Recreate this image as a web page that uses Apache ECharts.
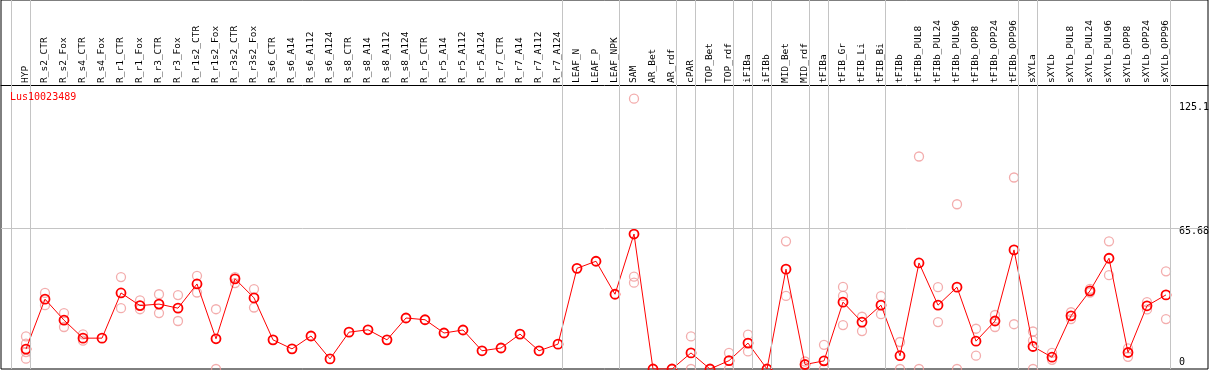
<!DOCTYPE html>
<html>
<head>
<meta charset="utf-8">
<script src="https://cdn.jsdelivr.net/npm/echarts@6/dist/echarts.min.js"></script>
<style>
  body { margin: 0; background: #fff; }
  #chart { width: 1209px; height: 370px; }
</style>
</head>
<body>
<div id="chart"></div>
<script>
const geneName = 'Lus10023489';

const categories = [
  'HYP', 'R_s2_CTR', 'R_s2_Fox', 'R_s4_CTR', 'R_s4_Fox', 'R_r1_CTR', 'R_r1_Fox', 'R_r3_CTR', 'R_r3_Fox',
  'R_r1s2_CTR', 'R_r1s2_Fox', 'R_r3s2_CTR', 'R_r3s2_Fox', 'R_s6_CTR', 'R_s6_A14', 'R_s6_A112', 'R_s6_A124',
  'R_s8_CTR', 'R_s8_A14', 'R_s8_A112', 'R_s8_A124', 'R_r5_CTR', 'R_r5_A14', 'R_r5_A112', 'R_r5_A124',
  'R_r7_CTR', 'R_r7_A14', 'R_r7_A112', 'R_r7_A124', 'LEAF_N', 'LEAF_P', 'LEAF_NPK', 'SAM', 'AR_Bet', 'AR_rdf',
  'cPAR', 'TOP_Bet', 'TOP_rdf', 'iFIBa', 'iFIBb', 'MID_Bet', 'MID_rdf', 'tFIBa', 'tFIB_Gr', 'tFIB_Li', 'tFIB_Bi',
  'tFIBb', 'tFIBb_PUL8', 'tFIBb_PUL24', 'tFIBb_PUL96', 'tFIBb_OPP8', 'tFIBb_OPP24', 'tFIBb_OPP96',
  'sXYLa', 'sXYLb', 'sXYLb_PUL8', 'sXYLb_PUL24', 'sXYLb_PUL96', 'sXYLb_OPP8', 'sXYLb_OPP24', 'sXYLb_OPP96'
];

// mean expression per sample (the red line)
const meanValues = [
  9.3, 32.6, 22.8, 14.4, 14.4, 35.5, 29.6, 30.3, 28.4,
  39.7, 14.1, 42.1, 33.2, 13.6, 9.4, 15.4, 4.7,
  17.2, 18.3, 13.6, 23.8, 23.0, 16.8, 18.2, 8.5,
  9.8, 16.3, 8.5, 11.6, 47.0, 50.3, 34.9, 63.0, 0, 0,
  7.5, 0, 3.9, 12.1, 0, 46.6, 2.1, 3.8, 31.2, 21.9, 29.8,
  6.2, 49.5, 29.8, 38.2, 13.0, 22.4, 55.6,
  10.5, 5.5, 24.8, 36.5, 51.7, 7.7, 29.5, 34.6
];

// single replicates per sample (pink circles)
const replicates = [
  [15.2, 11.8, 7.9, 4.8], [35.5, 29.8], [26.1, 19.6], [16.2, 13.2], [], [42.9, 28.4], [32.0, 27.9], [34.9, 26.1], [34.5, 22.4],
  [43.5, 35.7], [27.9, 0], [42.9, 40.1], [37.3, 28.7], [], [], [], [],
  [], [], [], [], [], [], [], [],
  [], [], [], [], [], [], [], [126.2, 43.1, 40.3], [], [],
  [15.2, 0], [], [7.5, 0], [16.0, 8.2], [], [59.6, 34.1], [3.5, 1.0], [11.3, 0], [38.3, 34.1, 20.5], [24.4, 17.7], [34.0, 25.6],
  [12.6, 0], [99.2, 0], [38.2, 21.9], [76.9, 0], [18.8, 6.2], [25.2, 19.6], [89.4, 20.9],
  [17.5, 13.2, 0], [7.5, 4.3], [26.5, 23.3], [37.4, 35.7], [59.6, 43.8], [9.6, 5.7], [31.2, 27.8], [45.6, 23.3]
];

// y axis tick labels
const yTicks = [0, 65.68, 125.1];
const yTickLabels = ['0', '65.68', '125.1'];

// last sample index of each group (grey separators)
const groupEnds = [-1, 0, 28, 31, 34, 35, 37, 38, 39, 41, 42, 45, 52, 53, 60];

const mono = 'DejaVu Sans Mono';

let lineData = meanValues.map((v, i) => [i, v]);
let repData = [];
replicates.forEach((list, i) => {
  list.forEach(v => repData.push([i, v]));
});

let chart = echarts.init(document.getElementById('chart'), null, { renderer: 'canvas' });
chart.setOption({
  animation: false,
  title: {
    text: geneName,
    left: 10,
    top: 92,
    padding: 0,
    textStyle: { color: '#ff0000', fontFamily: mono, fontSize: 10, fontWeight: 'normal' }
  },
  grid: {
    left: 1,
    right: 1,
    top: 0,
    bottom: 1,
    show: true,
    borderColor: '#000',
    borderWidth: 1,
    outerBoundsMode: 'none'
  },
  xAxis: {
    type: 'value',
    min: -25 / 19,
    max: 1182 / 19,
    position: 'top',
    offset: -85,
    axisLine: { show: true, onZero: false, lineStyle: { color: '#000', width: 1 } },
    axisTick: { show: false },
    splitLine: { show: false },
    axisLabel: {
      customValues: categories.map((c, i) => i),
      formatter: v => categories[v],
      rotate: -90,
      margin: 2,
      color: '#000',
      fontFamily: mono,
      fontSize: 9.5
    }
  },
  yAxis: {
    type: 'value',
    min: 0,
    max: 172.25,
    position: 'right',
    offset: -31,
    axisLine: { show: false, onZero: false },
    axisTick: { show: false },
    splitLine: { show: false },
    axisLabel: {
      customValues: yTicks,
      margin: 2,
      formatter: v => {
        let idx = yTicks.indexOf(v);
        let key = idx === 0 ? 'b' : (idx === 1 ? 'm' : 't');
        return '{' + key + '|' + yTickLabels[idx] + '}';
      },
      rich: {
        t: { color: '#000', fontFamily: mono, fontSize: 10, padding: [12, 0, 0, 0] },
        m: { color: '#000', fontFamily: mono, fontSize: 10, padding: [7, 0, 0, 0] },
        b: { color: '#000', fontFamily: mono, fontSize: 10, padding: [0, 0, 14, 0] }
      }
    }
  },
  series: [
    {
      name: 'replicates',
      type: 'scatter',
      data: repData,
      symbol: 'circle',
      symbolSize: 9,
      itemStyle: { color: 'rgba(0,0,0,0)', borderColor: '#f09898', borderWidth: 1.3 },
      markLine: {
        silent: true,
        symbol: ['none', 'none'],
        label: { show: false },
        lineStyle: { color: '#c4c4c4', width: 1, type: 'solid' },
        data: groupEnds.map(i => ({ xAxis: i + 0.226 })).concat([{ yAxis: yTicks[1] }])
      }
    },
    {
      name: geneName,
      type: 'line',
      data: lineData,
      symbol: 'circle',
      symbolSize: 9,
      lineStyle: { color: '#ff0000', width: 1 },
      itemStyle: { color: 'rgba(0,0,0,0)', borderColor: '#ff0000', borderWidth: 1.8 }
    }
  ]
});
</script>
</body>
</html>
